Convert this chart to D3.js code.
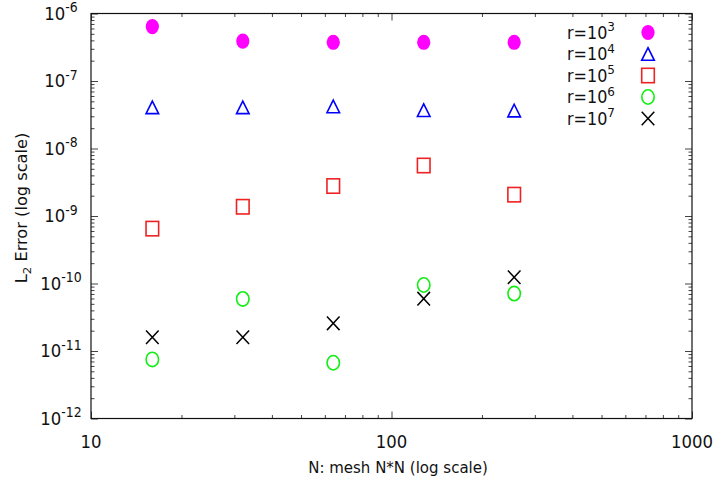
<!DOCTYPE html>
<html><head><meta charset="utf-8">
<script src="https://cdn.jsdelivr.net/npm/d3@7"></script>
<style>
html,body{margin:0;padding:0;background:#fff;}
svg{display:block;font-family:"DejaVu Sans",sans-serif;}
</style></head>
<body>
<svg id="chart" width="715" height="489"></svg>
<script>
// ---- data ----
const meshN = [16, 32, 64, 128, 256];
const seriesExp = ["3", "4", "5", "6", "7"];
const errR1e3 = [6.4e-7, 3.9e-7, 3.75e-7, 3.75e-7, 3.75e-7];
const errR1e4 = [4.07e-8, 4.07e-8, 4.2e-8, 3.7e-8, 3.65e-8];
const errR1e5 = [6.5e-10, 1.37e-9, 2.78e-9, 5.6e-9, 2.07e-9];
const errR1e6 = [7.5e-12, 5.9e-11, 6.7e-12, 9.5e-11, 7.1e-11];
const errR1e7 = [1.6e-11, 1.6e-11, 2.57e-11, 5.96e-11, 1.24e-10];
const xTickValues = [10, 100, 1000];
const yTickExps = [-12, -11, -10, -9, -8, -7, -6];
const xTitle = "N: mesh N*N (log scale)";
const yTitle = "Error (log scale)";

const seriesList = [
  {exp: seriesExp[0], values: errR1e3, shape: "dot", color: "#ff00ff"},
  {exp: seriesExp[1], values: errR1e4, shape: "tri", color: "#0000ff"},
  {exp: seriesExp[2], values: errR1e5, shape: "sq", color: "#ee2222"},
  {exp: seriesExp[3], values: errR1e6, shape: "circ", color: "#11ee11"},
  {exp: seriesExp[4], values: errR1e7, shape: "x", color: "#000000"}
];

const L = 91, R = 692, T = 13.5, B = 418.5;
const SY = 1.08; // vertical stretch of text
const svg = d3.select("#chart");
const x = d3.scaleLog().domain([10, 1000]).range([L, R]);
const y = d3.scaleLog().domain([1e-12, 1e-6]).range([B, T]);

// minor ticks
const xMinor = [], yMinor = [];
for (let k = 1; k <= 2; k++) for (let m = 2; m <= 9; m++) xMinor.push(m * Math.pow(10, k));
for (let k = -12; k <= -7; k++) for (let m = 2; m <= 9; m++) yMinor.push(m * Math.pow(10, k));
const yMajor = yTickExps.map(e => Math.pow(10, e));

const tickCol = "#444";
function drawTicks(g) { g.select(".domain").remove(); g.selectAll(".tick line").attr("stroke", tickCol); }
svg.append("g").attr("transform", `translate(0,${B})`).call(d3.axisBottom(x).tickValues(xMinor).tickSize(-3.5).tickFormat("")).call(drawTicks);
svg.append("g").attr("transform", `translate(0,${B})`).call(d3.axisBottom(x).tickValues(xTickValues).tickSize(-7).tickFormat("")).call(drawTicks);
svg.append("g").attr("transform", `translate(0,${T})`).call(d3.axisTop(x).tickValues(xMinor).tickSize(-3.5).tickFormat("")).call(drawTicks);
svg.append("g").attr("transform", `translate(0,${T})`).call(d3.axisTop(x).tickValues(xTickValues).tickSize(-7).tickFormat("")).call(drawTicks);
svg.append("g").attr("transform", `translate(${L},0)`).call(d3.axisLeft(y).tickValues(yMinor).tickSize(-3.5).tickFormat("")).call(drawTicks);
svg.append("g").attr("transform", `translate(${L},0)`).call(d3.axisLeft(y).tickValues(yMajor).tickSize(-7).tickFormat("")).call(drawTicks);
svg.append("g").attr("transform", `translate(${R},0)`).call(d3.axisRight(y).tickValues(yMinor).tickSize(-3.5).tickFormat("")).call(drawTicks);
svg.append("g").attr("transform", `translate(${R},0)`).call(d3.axisRight(y).tickValues(yMajor).tickSize(-7).tickFormat("")).call(drawTicks);

// frame
svg.append("rect").attr("x", L).attr("y", T).attr("width", R - L).attr("height", B - T)
  .attr("fill", "none").attr("stroke", "#111").attr("stroke-width", 1.2);

// tick labels
svg.append("g").selectAll("text").data(xTickValues).join("text")
  .attr("transform", d => `translate(${x(d)},${B + 29}) scale(1,${SY})`).attr("text-anchor", "middle")
  .attr("font-size", 16.5).attr("fill", "#111").text(d => d);

const yl = svg.append("g").selectAll("text").data(yTickExps).join("text")
  .attr("transform", d => `translate(61,${y(Math.pow(10, d)) + 6.3}) scale(1,${SY})`).attr("text-anchor", "middle")
  .attr("font-size", 16.5).attr("fill", "#111");
yl.append("tspan").text("10");
yl.append("tspan").attr("dy", -7).attr("font-size", 12.5).text(d => d);

// axis titles
svg.append("text").attr("transform", `translate(398,473) scale(1,${SY})`).attr("text-anchor", "middle")
  .attr("font-size", 15).attr("fill", "#111").text(xTitle);
const yt = svg.append("text").attr("transform", `translate(27,${(T + B) / 2 - 8}) rotate(-90) scale(${SY},1)`)
  .attr("text-anchor", "middle").attr("font-size", 15).attr("fill", "#111");
yt.append("tspan").text("L");
yt.append("tspan").attr("dy", 4).attr("font-size", 11).text("2");
yt.append("tspan").attr("dy", -4).text(" " + yTitle);

// markers
function drawMarker(g, shape, color) {
  if (shape === "dot") g.append("ellipse").attr("rx", 6.6).attr("ry", 7.6).attr("fill", color);
  else if (shape === "circ") g.append("ellipse").attr("rx", 6.2).attr("ry", 7.2).attr("fill", "none").attr("stroke", color).attr("stroke-width", 1.6);
  else if (shape === "sq") g.append("rect").attr("x", -6.3).attr("y", -7.2).attr("width", 12.6).attr("height", 14.4).attr("fill", "none").attr("stroke", color).attr("stroke-width", 1.6);
  else if (shape === "tri") g.append("path").attr("d", "M0,-6.3L6.3,6.3L-6.3,6.3Z").attr("fill", "none").attr("stroke", color).attr("stroke-width", 1.6);
  else if (shape === "x") g.append("path").attr("d", "M-6.3,-6.8L6.3,6.8M-6.3,6.8L6.3,-6.8").attr("fill", "none").attr("stroke", color).attr("stroke-width", 1.5);
}
seriesList.forEach(s => {
  svg.append("g").selectAll("g").data(s.values.map((v, i) => [meshN[i], v])).join("g")
    .attr("transform", d => `translate(${x(d[0])},${y(d[1])})`)
    .each(function () { drawMarker(d3.select(this), s.shape, s.color); });
});

// legend
seriesList.forEach((s, i) => {
  const cy = 32.5 + i * 21.5;
  const t = svg.append("text").attr("transform", `translate(615,${cy + 6.3}) scale(1,${SY})`).attr("text-anchor", "end")
    .attr("font-size", 16).attr("fill", "#111");
  t.append("tspan").text("r=10");
  t.append("tspan").attr("dy", -7).attr("font-size", 12).text(s.exp);
  drawMarker(svg.append("g").attr("transform", `translate(648,${cy})`), s.shape, s.color);
});
</script>
</body></html>
